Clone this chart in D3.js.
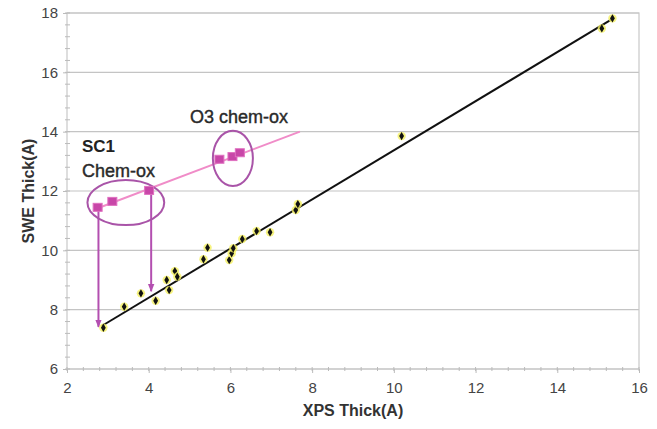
<!DOCTYPE html>
<meta charset="utf-8">
<style>
  body { margin: 0; background: #fff; }
  text { font-family: "Liberation Sans", Arial, sans-serif; }
  .tick text { fill: #444; font-size: 15px; }
  .axis path { display: none; }
</style>
<svg width="657" height="429"></svg>
<script src="https://cdnjs.cloudflare.com/ajax/libs/d3/7.8.5/d3.min.js"></script>
<script>
// XPS vs SWE thickness, reference wafers
var xpsVals = [2.89, 3.40, 3.81, 4.17, 4.50, 4.44, 4.64, 4.70, 5.34, 5.44, 5.97, 6.03, 6.07, 6.29, 6.64, 6.97, 7.60, 7.65, 10.19, 15.09, 15.35];
var sweVals = [7.39, 8.10, 8.55, 8.30, 8.66, 9.00, 9.30, 9.11, 9.70, 10.09, 9.67, 9.90, 10.07, 10.38, 10.65, 10.61, 11.36, 11.56, 13.85, 17.48, 17.82];
// fitted line ends
var fitX = [2.85, 15.35];
var fitY = [7.45, 17.8];

// chem-ox wafers (SC1 then O3)
var chemX = [2.75, 3.11, 4.01, 5.73, 6.05, 6.23];
var chemY = [11.45, 11.65, 12.02, 13.07, 13.16, 13.29];
var chemFitX = [2.75, 7.7];
var chemFitY = [11.42, 14.0];

// arrows from SC1 points down to the fit
var arrowX = [2.77, 4.06];
var arrowFrom = [11.42, 12.0];
var arrowTo = [7.42, 8.62];

// circled groups: centre x, centre y, radius x, radius y
var ringCx = [3.44, 6.06];
var ringCy = [11.61, 13.10];
var ringRx = [0.94, 0.49];
var ringRy = [0.76, 0.93];

var xTicks = [2, 4, 6, 8, 10, 12, 14, 16];
var yTicks = [6, 8, 10, 12, 14, 16, 18];

var svg = d3.select("svg"),
  margin = {top: 13, right: 18, bottom: 60, left: 67},
  width = +svg.attr("width") - margin.left - margin.right,
  height = +svg.attr("height") - margin.top - margin.bottom,
  g = svg.append("g").attr("transform", "translate(" + margin.left + "," + margin.top + ")");

var x = d3.scaleLinear().domain([2, 16]).range([0, width]);
var y = d3.scaleLinear().domain([6, 18]).range([height, 0]);

// grid
g.selectAll(".grid")
  .data(yTicks)
  .enter().append("line")
  .attr("x1", 0).attr("x2", width)
  .attr("y1", function(d) { return y(d); })
  .attr("y2", function(d) { return y(d); })
  .attr("stroke", "#c4c4c4")
  .attr("stroke-width", 1.2);

g.append("rect")
  .attr("width", width).attr("height", height)
  .attr("fill", "none")
  .attr("stroke", "#c8c8c8")
  .attr("stroke-width", 1.2);

// minor ticks
var minorX = d3.range(2, 16.01, 0.4), minorY = d3.range(6, 18.01, 0.4);
g.selectAll(".mx").data(minorX).enter().append("line")
  .attr("x1", function(d) { return x(d); }).attr("x2", function(d) { return x(d); })
  .attr("y1", height - 2).attr("y2", height + 2)
  .attr("stroke", "#bbb");
g.selectAll(".my").data(minorY).enter().append("line")
  .attr("y1", function(d) { return y(d); }).attr("y2", function(d) { return y(d); })
  .attr("x1", -2).attr("x2", 3)
  .attr("stroke", "#bbb");

g.append("g")
  .attr("class", "axis")
  .attr("transform", "translate(0," + height + ")")
  .call(d3.axisBottom(x).tickValues(xTicks).tickSize(4).tickPadding(9))
  .selectAll("line").attr("stroke", "#bbb");

g.append("g")
  .attr("class", "axis")
  .call(d3.axisLeft(y).tickValues(yTicks).tickSize(4).tickPadding(5))
  .selectAll("line").attr("stroke", "#bbb");

svg.append("text")
  .attr("x", margin.left + width / 2).attr("y", 416)
  .attr("text-anchor", "middle")
  .style("font-size", "16px").style("font-weight", "bold").attr("fill", "#333")
  .text("XPS Thick(A)");

svg.append("text")
  .attr("transform", "translate(34," + (margin.top + height / 2) + ") rotate(-90)")
  .attr("text-anchor", "middle")
  .style("font-size", "16px").style("font-weight", "bold").attr("fill", "#333")
  .text("SWE Thick(A)");

// arrow head
svg.append("defs").append("marker")
  .attr("id", "head")
  .attr("viewBox", "0 0 10 10")
  .attr("refX", 9).attr("refY", 5)
  .attr("markerWidth", 4).attr("markerHeight", 4)
  .attr("orient", "auto")
  .append("path").attr("d", "M0,1L10,5L0,9Z").attr("fill", "#b34fb0");

// fit lines
g.append("line")
  .attr("x1", x(chemFitX[0])).attr("y1", y(chemFitY[0]))
  .attr("x2", x(chemFitX[1])).attr("y2", y(chemFitY[1]))
  .attr("stroke", "#f08cc8").attr("stroke-width", 2);

g.append("line")
  .attr("x1", x(fitX[0])).attr("y1", y(fitY[0]))
  .attr("x2", x(fitX[1])).attr("y2", y(fitY[1]))
  .attr("stroke", "#111").attr("stroke-width", 2);

// arrows
g.selectAll(".arrow")
  .data(arrowX)
  .enter().append("line")
  .attr("x1", function(d) { return x(d); }).attr("x2", function(d) { return x(d); })
  .attr("y1", function(d, i) { return y(arrowFrom[i]); })
  .attr("y2", function(d, i) { return y(arrowTo[i]); })
  .attr("stroke", "#b34fb0").attr("stroke-width", 2)
  .attr("marker-end", "url(#head)");

// ellipses
g.selectAll(".ring")
  .data(ringCx)
  .enter().append("ellipse")
  .attr("cx", function(d) { return x(d); })
  .attr("cy", function(d, i) { return y(ringCy[i]); })
  .attr("rx", function(d, i) { return x(2 + ringRx[i]) - x(2); })
  .attr("ry", function(d, i) { return y(6) - y(6 + ringRy[i]); })
  .attr("fill", "none")
  .attr("stroke", "#a954a8").attr("stroke-width", 2);

// chem-ox squares
g.selectAll(".sq")
  .data(chemX)
  .enter().append("rect")
  .attr("x", function(d) { return x(d) - 4.5; })
  .attr("y", function(d, i) { return y(chemY[i]) - 4; })
  .attr("width", 9).attr("height", 8)
  .attr("fill", "#c846a8")
  .attr("stroke", "#e070c0").attr("stroke-width", 1);

// reference points
var pts = g.selectAll(".pt")
  .data(xpsVals)
  .enter().append("g")
  .attr("transform", function(d, i) { return "translate(" + x(d) + "," + y(sweVals[i]) + ")"; });
pts.append("circle").attr("r", 4.2).attr("fill", "#f4f060").attr("opacity", 0.8);
pts.append("path")
  .attr("d", d3.symbol().type(d3.symbolDiamond).size(20))
  .attr("fill", "#111");

// labels
svg.append("text").attr("x", 82).attr("y", 152)
  .style("font-size", "17px").style("font-weight", "bold").attr("fill", "#222")
  .text("SC1");
svg.append("text").attr("x", 82).attr("y", 177)
  .style("font-size", "18px").attr("fill", "#2a2a2a").attr("stroke", "#2a2a2a").attr("stroke-width", 0.4)
  .text("Chem-ox");
svg.append("text").attr("x", 190).attr("y", 123)
  .style("font-size", "18px").attr("fill", "#2a2a2a").attr("stroke", "#2a2a2a").attr("stroke-width", 0.4)
  .text("O3 chem-ox");
</script>
